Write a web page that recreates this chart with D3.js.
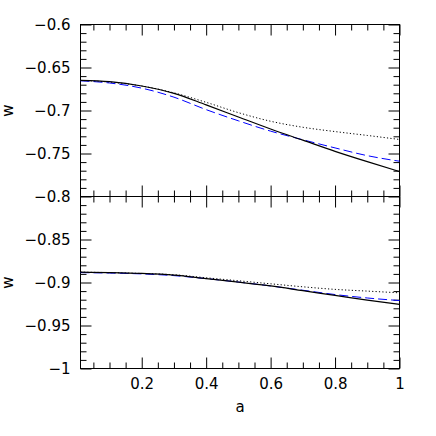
<!DOCTYPE html>
<html>
<head>
<meta charset="utf-8">
<script src="https://cdn.jsdelivr.net/npm/d3@7"></script>
<style>
  html, body { margin: 0; padding: 0; background: #fff; }
  svg { display: block; }
  text { font-family: "DejaVu Sans", sans-serif; font-size: 15px; fill: #000; }
</style>
</head>
<body>
<svg id="chart" width="436" height="436"></svg>
<script>
// ---- data ----
const aValues = [0.01, 0.1, 0.2, 0.3, 0.4, 0.5, 0.6, 0.7, 0.8, 0.9, 1.0];

const topSolid  = [-0.665, -0.6665, -0.6715, -0.680, -0.6935, -0.7075, -0.7215, -0.7345, -0.7475, -0.7595, -0.771];
const topDashed = [-0.6655, -0.668, -0.674, -0.6845, -0.699, -0.712, -0.724, -0.734, -0.7435, -0.7525, -0.759];
const topDotted = [-0.665, -0.667, -0.6715, -0.6795, -0.6905, -0.7025, -0.7125, -0.7195, -0.7245, -0.729, -0.7337];

const botSolid  = [-0.888, -0.8885, -0.8895, -0.8915, -0.8955, -0.8995, -0.904, -0.9095, -0.915, -0.9205, -0.9255];
const botDashed = [-0.8885, -0.889, -0.890, -0.892, -0.8955, -0.8995, -0.904, -0.909, -0.914, -0.918, -0.921];
const botDotted = [-0.888, -0.8885, -0.8895, -0.891, -0.8945, -0.898, -0.9015, -0.905, -0.908, -0.910, -0.912];

const xMajorTicks = [0.2, 0.4, 0.6, 0.8, 1.0];
const xMajorLabels = ["0.2", "0.4", "0.6", "0.8", "1"];
const xMinorTicks = [0.05, 0.1, 0.15, 0.25, 0.3, 0.35, 0.45, 0.5, 0.55, 0.65, 0.7, 0.75, 0.85, 0.9, 0.95];

const topYMajor = [-0.6, -0.65, -0.7, -0.75, -0.8];
const topYLabels = ["\u22120.6", "\u22120.65", "\u22120.7", "\u22120.75", "\u22120.8"];
const botYMajor = [-0.85, -0.9, -0.95, -1.0];
const botYLabels = ["\u22120.85", "\u22120.9", "\u22120.95", "\u22121"];

const xLabel = "a";
const yLabel = "w";

// ---- layout ----
const svg = d3.select("#chart");
const L = 80.5, R = 399.5, T = 24.5, M = 196.5, B = 368.5;

const x = d3.scaleLinear().domain([0.01, 1.0]).range([L, R]);
const yTop = d3.scaleLinear().domain([-0.8, -0.6]).range([M, T]);
const yBot = d3.scaleLinear().domain([-1.0, -0.8]).range([B, M]);

const topMinor = d3.range(-79, -59).map(v => v / 100).filter(v => Math.round(v * 100) % 5 !== 0);
const botMinor = d3.range(-99, -79).map(v => v / 100).filter(v => Math.round(v * 100) % 5 !== 0);

function styleAxis(g) {
  g.selectAll(".domain").remove();
  g.selectAll("line").attr("stroke", "#000").attr("stroke-width", 1);
  g.selectAll("text").attr("font-family", "DejaVu Sans, sans-serif").attr("font-size", 15).attr("fill", "#000");
}

function panel(y, majors, labels, minors, yPos0, yPos1, showX) {
  svg.append("g").attr("transform", `translate(${L},0)`)
    .call(d3.axisLeft(y).tickValues(minors).tickSize(-6).tickFormat(""))
    .call(styleAxis);
  svg.append("g").attr("transform", `translate(${L},0)`)
    .call(d3.axisLeft(y).tickValues(majors).tickSize(-11).tickPadding(10)
      .tickFormat((d, i) => labels[i]))
    .call(styleAxis);
  svg.append("g").attr("transform", `translate(${R},0)`)
    .call(d3.axisRight(y).tickValues(minors).tickSize(-6).tickFormat(""))
    .call(styleAxis);
  svg.append("g").attr("transform", `translate(${R},0)`)
    .call(d3.axisRight(y).tickValues(majors).tickSize(-11).tickFormat(""))
    .call(styleAxis);
  svg.append("g").attr("transform", `translate(0,${yPos0})`)
    .call(d3.axisTop(x).tickValues(xMinorTicks).tickSize(-6).tickFormat(""))
    .call(styleAxis);
  svg.append("g").attr("transform", `translate(0,${yPos0})`)
    .call(d3.axisTop(x).tickValues(xMajorTicks).tickSize(-11).tickFormat(""))
    .call(styleAxis);
  svg.append("g").attr("transform", `translate(0,${yPos1})`)
    .call(d3.axisBottom(x).tickValues(xMinorTicks).tickSize(-6).tickFormat(""))
    .call(styleAxis);
  svg.append("g").attr("transform", `translate(0,${yPos1})`)
    .call(d3.axisBottom(x).tickValues(xMajorTicks).tickSize(-11).tickPadding(10)
      .tickFormat((d, i) => showX ? xMajorLabels[i] : ""))
    .call(styleAxis);
}

panel(yTop, topYMajor, topYLabels, topMinor, T, M, false);
panel(yBot, botYMajor, botYLabels, botMinor, M, B, true);

svg.append("rect")
  .attr("x", L).attr("y", T)
  .attr("width", R - L).attr("height", B - T)
  .attr("fill", "none").attr("stroke", "#000").attr("stroke-width", 1);
svg.append("line")
  .attr("x1", L).attr("x2", R).attr("y1", M).attr("y2", M)
  .attr("stroke", "#000").attr("stroke-width", 1);

function drawLine(y, vals, color, dash, width) {
  const line = d3.line().x((d, i) => x(aValues[i])).y(d => y(d)).curve(d3.curveMonotoneX);
  svg.append("path")
    .attr("d", line(vals))
    .attr("fill", "none")
    .attr("stroke", color)
    .attr("stroke-width", width)
    .attr("stroke-dasharray", dash);
}

drawLine(yTop, topDotted, "#000", "1.2,2.2", 1);
drawLine(yTop, topDashed, "#0000ff", "9,4", 1);
drawLine(yTop, topSolid, "#000", null, 1.2);

drawLine(yBot, botDotted, "#000", "1.2,2.2", 1);
drawLine(yBot, botDashed, "#0000ff", "9,4", 1);
drawLine(yBot, botSolid, "#000", null, 1.2);

svg.append("text").attr("x", (L + R) / 2).attr("y", 412)
  .attr("text-anchor", "middle").text(xLabel);
svg.append("text")
  .attr("transform", `translate(13,${(T + M) / 2}) rotate(-90)`)
  .attr("text-anchor", "middle").text(yLabel);
svg.append("text")
  .attr("transform", `translate(13,${(M + B) / 2}) rotate(-90)`)
  .attr("text-anchor", "middle").text(yLabel);
</script>
</body>
</html>
